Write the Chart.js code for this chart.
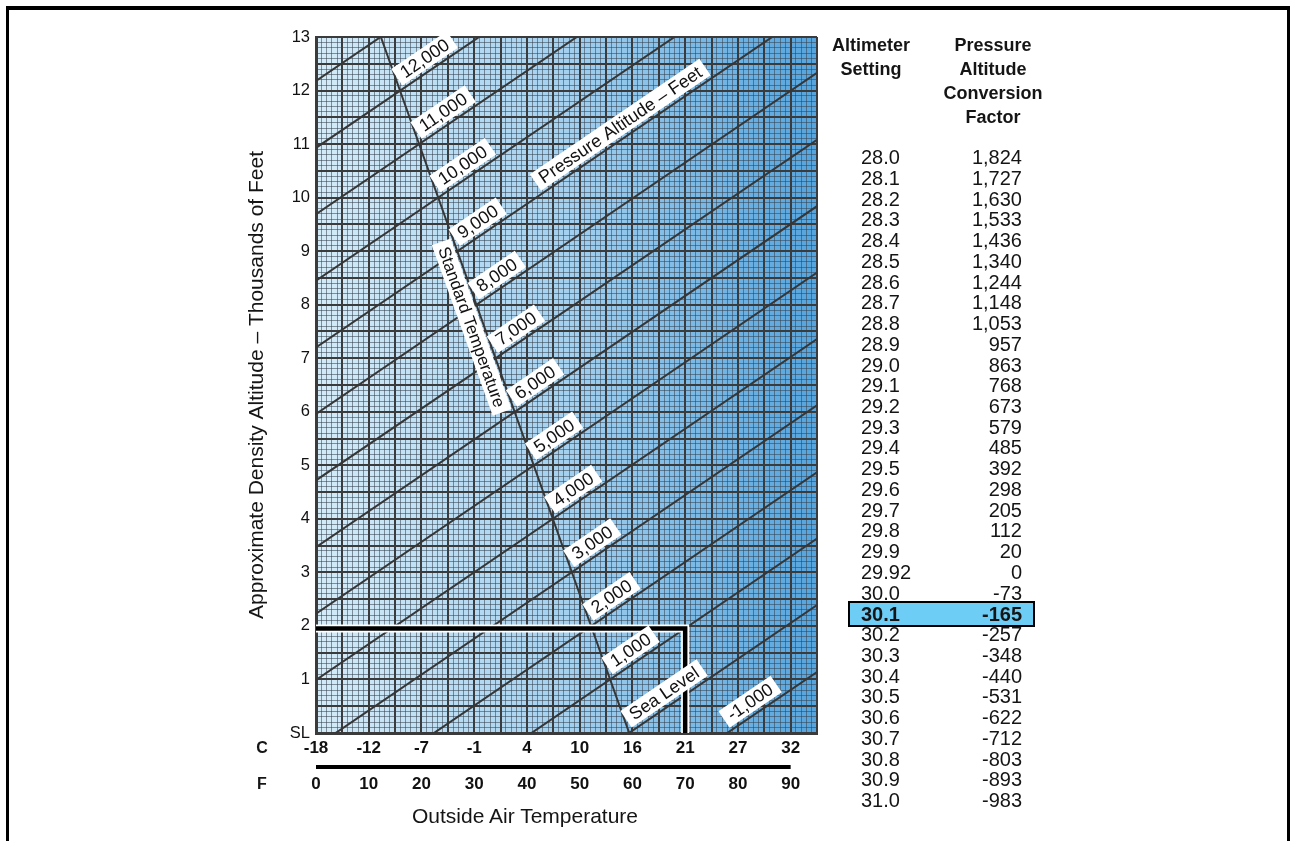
<!DOCTYPE html>
<html>
<head>
<meta charset="utf-8">
<script src="https://cdn.jsdelivr.net/npm/chart.js@4.4.1/dist/chart.umd.min.js"></script>
<style>
  html, body { margin: 0; padding: 0; background: #fff; }
  #wrap { position: relative; width: 1292px; height: 841px; overflow: hidden;
          font-family: "Liberation Sans", Arial, Helvetica, sans-serif; color: #151515; }
  #frame { position: absolute; left: 6px; top: 6px; width: 1278px; height: 900px;
           border-top: 4px solid #000; border-left: 3px solid #000; border-right: 3px solid #000; }
  canvas { position: absolute; left: 0; top: 0; }
  .unit { position: absolute; left: 252px; width: 20px; text-align: center; font-weight: bold; font-size: 16px; line-height: 20px; }
  #xtitle { position: absolute; left: 365px; width: 320px; top: 804px; text-align: center; font-size: 21px; line-height: 24px; }
  .head { position: absolute; top: 33px; text-align: center; font-weight: bold; font-size: 18px; line-height: 24px; }
  .row { position: absolute; left: 850px; width: 183px; height: 20.74px; line-height: 20.74px; font-size: 20px; }
  .row .a { position: absolute; left: 11px; }
  .row .f { position: absolute; right: 11px; }
  .row.hl { background: #6dcdf4; outline: 2.5px solid #000; height: 22px; line-height: 22px; font-weight: bold; }
</style>
</head>
<body>
<div id="wrap">
  <div id="frame"></div>
  <canvas id="chart" width="1292" height="841"></canvas>
  <div class="unit" style="top:738px">C</div>
  <div class="unit" style="top:774px">F</div>
  <div id="xtitle">Outside Air Temperature</div>
  <div class="head" style="left:816px; width:110px">Altimeter<br>Setting</div>
  <div class="head" style="left:933px; width:120px">Pressure<br>Altitude<br>Conversion<br>Factor</div>
  <div id="table"></div>
</div>
<script>
const FONT = '"Liberation Sans", Arial, Helvetica, sans-serif';

// pressure altitude lines, read where each one meets 0 F and 95 F
const pressureAltitudes = [-1000, 0, 1000, 2000, 3000, 4000, 5000, 6000, 7000, 8000, 9000, 10000, 11000, 12000, 13000];
const lineLabels = ['-1,000', 'Sea Level', '1,000', '2,000', '3,000', '4,000', '5,000', '6,000', '7,000', '8,000', '9,000', '10,000', '11,000', '12,000', ''];
const densityAt0F = [-5220, -3980, -2740, -1500, -250, 990, 2230, 3470, 4720, 5960, 7200, 8450, 9690, 10930, 12180];
const densityAt95F = [1140, 2390, 3630, 4870, 6120, 7360, 8600, 9840, 11080, 12330, 13570, 14810, 16050, 17290, 18540];

// standard temperature line
const standardTempF = [59.4, 12.3];
const standardTempDA = [0, 13000];

// worked example path (70 F, 1,000 ft pressure altitude)
const exampleTempF = [0, 70, 70];
const exampleDA = [1950, 1950, 0];

const yTickLabels = ['SL', '1', '2', '3', '4', '5', '6', '7', '8', '9', '10', '11', '12', '13'];
const fahrenheitTicks = [0, 10, 20, 30, 40, 50, 60, 70, 80, 90];
const celsiusTicks = ['-18', '-12', '-7', '-1', '4', '10', '16', '21', '27', '32'];

const altimeterSettings = ['28.0', '28.1', '28.2', '28.3', '28.4', '28.5', '28.6', '28.7', '28.8', '28.9',
  '29.0', '29.1', '29.2', '29.3', '29.4', '29.5', '29.6', '29.7', '29.8', '29.9', '29.92',
  '30.0', '30.1', '30.2', '30.3', '30.4', '30.5', '30.6', '30.7', '30.8', '30.9', '31.0'];
const conversionFactors = ['1,824', '1,727', '1,630', '1,533', '1,436', '1,340', '1,244', '1,148', '1,053', '957',
  '863', '768', '673', '579', '485', '392', '298', '205', '112', '20', '0',
  '-73', '-165', '-257', '-348', '-440', '-531', '-622', '-712', '-803', '-893', '-983'];
const highlightedSetting = '30.1';

// table on the right
const table = document.getElementById('table');
altimeterSettings.forEach((s, i) => {
  const row = document.createElement('div');
  row.className = 'row' + (s === highlightedSetting ? ' hl' : '');
  const cy = 157.5 + i * 20.74;
  row.style.top = (cy - (s === highlightedSetting ? 11 : 10.37)) + 'px';
  row.innerHTML = '<span class="a">' + s + '</span><span class="f">' + conversionFactors[i] + '</span>';
  table.appendChild(row);
});

const MAJOR = '#3b3b3b';
const MINOR = 'rgba(55,65,78,0.55)';
const LINE = '#363636';

// chart.js draws lower "order" on top
const datasets = pressureAltitudes.map((pa, i) => ({
  data: [{ x: 0, y: densityAt0F[i] }, { x: 95, y: densityAt95F[i] }],
  borderColor: LINE, borderWidth: 2, showLine: true, pointRadius: 0, order: 3
}));
datasets.push({
  data: standardTempF.map((t, i) => ({ x: t, y: standardTempDA[i] })),
  borderColor: LINE, borderWidth: 2, showLine: true, pointRadius: 0, order: 3
});
datasets.push({
  data: exampleTempF.map((t, i) => ({ x: t, y: exampleDA[i] })),
  borderColor: '#fff', borderWidth: 8, showLine: true, pointRadius: 0, borderJoinStyle: 'miter', order: 2
});
datasets.push({
  data: exampleTempF.map((t, i) => ({ x: t, y: exampleDA[i] })),
  borderColor: '#000', borderWidth: 4.5, showLine: true, pointRadius: 0, borderJoinStyle: 'miter', order: 1
});

function labelBox(ctx, px, py, ang, text, along, lift, below) {
  const w = ctx.measureText(text).width + 12, h = 20;
  ctx.save();
  ctx.translate(px, py);
  ctx.rotate(ang);
  const top = below ? lift : -lift - h;
  ctx.fillStyle = '#fff';
  ctx.fillRect(along, top, w, h);
  ctx.fillStyle = '#111';
  ctx.textBaseline = 'middle';
  ctx.fillText(text, along + 6, top + h / 2 + 1);
  ctx.restore();
}

const paperPlugin = {
  id: 'paper',
  beforeDraw(chart) {
    const { ctx, chartArea: a } = chart;
    const g = ctx.createLinearGradient(a.left, 0, a.right, 0);
    g.addColorStop(0, '#d4ebf8');
    g.addColorStop(0.5, '#a3d0ef');
    g.addColorStop(1, '#55a4dd');
    ctx.save();
    ctx.fillStyle = g;
    ctx.fillRect(a.left, a.top, a.width, a.height);
    ctx.restore();
  },
  afterDatasetsDraw(chart) {
    const { ctx, chartArea: area, scales: { x, y } } = chart;
    const s0 = { x: x.getPixelForValue(standardTempF[0]), y: y.getPixelForValue(standardTempDA[0]) };
    const s1 = { x: x.getPixelForValue(standardTempF[1]), y: y.getPixelForValue(standardTempDA[1]) };
    ctx.save();
    ctx.font = '18px ' + FONT;
    pressureAltitudes.forEach((pa, i) => {
      if (!lineLabels[i]) return;
      const p0 = { x: x.getPixelForValue(0), y: y.getPixelForValue(densityAt0F[i]) };
      const p1 = { x: x.getPixelForValue(95), y: y.getPixelForValue(densityAt95F[i]) };
      const dx = p1.x - p0.x, dy = p1.y - p0.y, ex = s1.x - s0.x, ey = s1.y - s0.y;
      let t = ((s0.x - p0.x) * ey - (s0.y - p0.y) * ex) / (dx * ey - dy * ex);
      if (p0.y + t * dy > area.bottom) t = (area.bottom - p0.y) / dy;
      labelBox(ctx, p0.x + t * dx, p0.y + t * dy, Math.atan2(dy, dx), lineLabels[i], 5, 3, false);
    });
    // title riding on the 9,000 ft line
    const k = pressureAltitudes.indexOf(9000);
    const q0 = { x: x.getPixelForValue(0), y: y.getPixelForValue(densityAt0F[k]) };
    const q1 = { x: x.getPixelForValue(95), y: y.getPixelForValue(densityAt95F[k]) };
    const tq = 43 / 95;
    labelBox(ctx, q0.x + tq * (q1.x - q0.x), q0.y + tq * (q1.y - q0.y),
      Math.atan2(q1.y - q0.y, q1.x - q0.x), 'Pressure Altitude \u2013 Feet', 0, 3, false);
    // standard temperature caption, reading downwards
    ctx.font = '17px ' + FONT;
    const ts = 9250 / 13000;
    labelBox(ctx, s0.x + ts * (s1.x - s0.x), s0.y + ts * (s1.y - s0.y),
      Math.atan2(s0.y - s1.y, s0.x - s1.x), 'Standard Temperature', 0, 2, true);
    ctx.restore();
  },
  afterDraw(chart) {
    const { ctx, scales: { x } } = chart;
    const l = x.getPixelForValue(fahrenheitTicks[0]);
    const r = x.getPixelForValue(fahrenheitTicks[fahrenheitTicks.length - 1]);
    ctx.save();
    ctx.fillStyle = '#000';
    ctx.fillRect(l, 765, r - l, 4);
    ctx.restore();
  }
};

new Chart(document.getElementById('chart'), {
  type: 'scatter',
  data: { datasets: datasets },
  options: {
    responsive: false,
    animation: false,
    layout: { padding: { left: 243, top: 37, right: 475, bottom: 32 } },
    plugins: { legend: { display: false }, tooltip: { enabled: false } },
    scales: {
      x: {
        type: 'linear', position: 'bottom', weight: 0, min: 0, max: 95,
        afterFit: s => { s.height = 36; },
        ticks: {
          stepSize: 1, autoSkip: false, maxRotation: 0, padding: 5, color: '#111',
          font: { family: FONT, size: 17, weight: 'bold' },
          callback: v => { const n = fahrenheitTicks.indexOf(Math.round(v)); return n < 0 ? '' : celsiusTicks[n]; }
        },
        grid: {
          drawTicks: false,
          color: c => (Math.round(c.tick.value) % 5 === 0 ? MAJOR : MINOR),
          lineWidth: c => (Math.round(c.tick.value) % 5 === 0 ? 2 : 1)
        },
        border: { display: true, color: MAJOR, width: 3 }
      },
      xF: {
        type: 'linear', position: 'bottom', weight: 1, min: 0, max: 95,
        afterFit: s => { s.height = 40; },
        ticks: {
          stepSize: 1, autoSkip: false, maxRotation: 0, padding: 5, color: '#111',
          font: { family: FONT, size: 17, weight: 'bold' },
          callback: v => (fahrenheitTicks.includes(Math.round(v)) ? String(Math.round(v)) : '')
        },
        grid: { display: false, drawTicks: false },
        border: { display: false }
      },
      y: {
        type: 'linear', min: 0, max: 13000,
        afterFit: s => { s.width = 73; },
        ticks: {
          stepSize: 100, autoSkip: false, padding: 6, color: '#111',
          font: { family: FONT, size: 16.5 },
          callback: v => (Math.round(v) % 1000 === 0 ? yTickLabels[Math.round(v) / 1000] : '')
        },
        grid: {
          drawTicks: false,
          color: c => (Math.round(c.tick.value) % 500 === 0 ? MAJOR : MINOR),
          lineWidth: c => (Math.round(c.tick.value) % 500 === 0 ? 2 : 1)
        },
        border: { display: true, color: MAJOR, width: 3 },
        title: {
          display: true, text: 'Approximate Density Altitude \u2013 Thousands of Feet',
          color: '#151515', font: { family: FONT, size: 21 }, padding: { top: 2, bottom: 0 }
        }
      }
    }
  },
  plugins: [paperPlugin]
});
</script>
</body>
</html>
